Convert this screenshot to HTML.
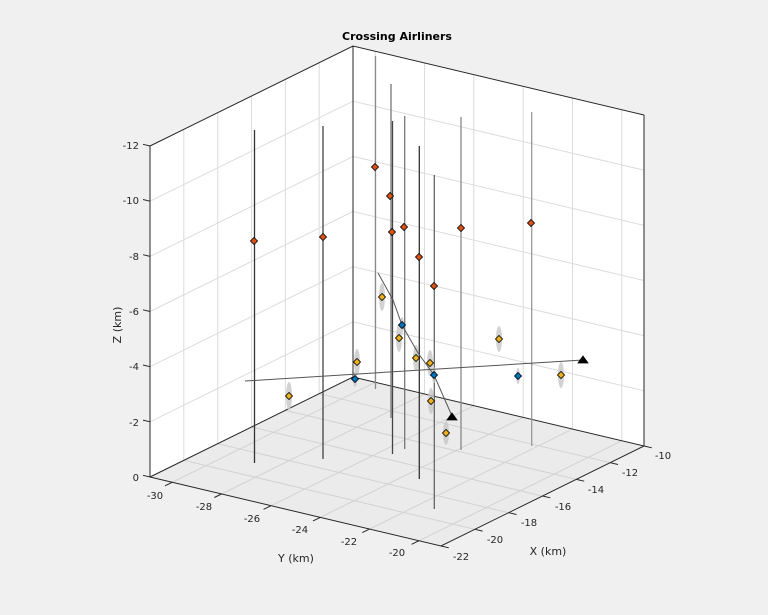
<!DOCTYPE html>
<html><head><meta charset="utf-8"><style>
html,body{margin:0;padding:0;background:#f0f0f0;}
svg{display:block;font-family:"DejaVu Sans","Liberation Sans",sans-serif;}
</style></head><body>
<svg width="768" height="615" viewBox="0 0 768 615" xmlns="http://www.w3.org/2000/svg">
<rect width="768" height="615" fill="#f0f0f0"/>
<polygon points="150,146 353,46 353,377 150,477" fill="#ffffff"/>
<polygon points="353,46 644,115 644,446 353,377" fill="#ffffff"/>
<polygon points="150,477 353,377 644,446 441,546" fill="#ebebeb"/>
<g stroke="#dcdcdc" stroke-width="1" fill="none">
<line x1="150" y1="421.8" x2="353" y2="321.8"/><line x1="150" y1="366.7" x2="353" y2="266.7"/>
<line x1="150" y1="311.5" x2="353" y2="211.5"/><line x1="150" y1="256.4" x2="353" y2="156.4"/>
<line x1="150" y1="201.2" x2="353" y2="101.2"/>
<line x1="353" y1="321.8" x2="644" y2="390.8"/><line x1="353" y1="266.7" x2="644" y2="335.7"/>
<line x1="353" y1="211.5" x2="644" y2="280.5"/><line x1="353" y1="156.4" x2="644" y2="225.4"/>
<line x1="353" y1="101.2" x2="644" y2="170.2"/>
<line x1="183.8" y1="460.3" x2="183.8" y2="129.3"/><line x1="217.7" y1="443.7" x2="217.7" y2="112.7"/>
<line x1="251.5" y1="427" x2="251.5" y2="96"/><line x1="285.4" y1="410.4" x2="285.4" y2="79.4"/>
<line x1="319.2" y1="393.7" x2="319.2" y2="62.7"/>
<line x1="375.2" y1="382.3" x2="375.2" y2="51.3"/><line x1="424.5" y1="394" x2="424.5" y2="63"/>
<line x1="473.8" y1="405.8" x2="473.8" y2="74.8"/><line x1="523.2" y1="417.4" x2="523.2" y2="86.4"/>
<line x1="572.5" y1="429.1" x2="572.5" y2="98.1"/><line x1="621.8" y1="440.8" x2="621.8" y2="109.8"/>
</g>
<g stroke="#d2d2d2" stroke-width="1" fill="none">
<line x1="183.8" y1="460.3" x2="474.8" y2="529.3"/><line x1="217.7" y1="443.7" x2="508.7" y2="512.7"/>
<line x1="251.5" y1="427" x2="542.5" y2="496"/><line x1="285.4" y1="410.4" x2="576.4" y2="479.4"/>
<line x1="319.2" y1="393.7" x2="610.2" y2="462.7"/>
<line x1="375.2" y1="382.3" x2="172.2" y2="482.3"/><line x1="424.5" y1="394" x2="221.5" y2="494"/>
<line x1="473.8" y1="405.8" x2="270.8" y2="505.8"/><line x1="523.2" y1="417.4" x2="320.2" y2="517.4"/>
<line x1="572.5" y1="429.1" x2="369.5" y2="529.1"/><line x1="621.8" y1="440.8" x2="418.8" y2="540.8"/>
</g>
<g stroke="#262626" stroke-width="1" fill="none">
<line x1="150" y1="146" x2="150" y2="477"/><line x1="353" y1="46" x2="353" y2="377"/>
<line x1="644" y1="115" x2="644" y2="446"/>
<polyline points="150,146 353,46 644,115"/>
<polyline points="150,477 353,377 644,446"/>
<polyline points="150,477 441,546 644,446"/>
<line x1="150" y1="146" x2="143" y2="144.3"/><line x1="150" y1="201.2" x2="143" y2="199.5"/>
<line x1="150" y1="256.4" x2="143" y2="254.7"/><line x1="150" y1="311.5" x2="143" y2="309.8"/>
<line x1="150" y1="366.7" x2="143" y2="365"/><line x1="150" y1="421.8" x2="143" y2="420.1"/>
<line x1="150" y1="477" x2="143" y2="475.3"/>
<line x1="172.2" y1="482.3" x2="165" y2="485.8"/><line x1="221.5" y1="494" x2="214.3" y2="497.5"/>
<line x1="270.8" y1="505.8" x2="263.6" y2="509.3"/><line x1="320.2" y1="517.4" x2="313" y2="520.9"/>
<line x1="369.5" y1="529.1" x2="362.3" y2="532.6"/><line x1="418.8" y1="540.8" x2="411.6" y2="544.3"/>
<line x1="441" y1="546" x2="448.8" y2="547.8"/><line x1="474.8" y1="529.3" x2="482.6" y2="531.1"/>
<line x1="508.7" y1="512.7" x2="516.5" y2="514.5"/><line x1="542.5" y1="496" x2="550.3" y2="497.8"/>
<line x1="576.4" y1="479.4" x2="584.2" y2="481.2"/><line x1="610.2" y1="462.7" x2="618" y2="464.5"/>
<line x1="644" y1="446" x2="651.8" y2="447.8"/>
</g>
<g font-size="10" fill="#262626" text-anchor="end">
<text x="139" y="149">-12</text><text x="139" y="204">-10</text><text x="139" y="260">-8</text>
<text x="139" y="315">-6</text><text x="139" y="370">-4</text><text x="139" y="426">-2</text>
<text x="139" y="481">0</text>
</g>
<g font-size="10" fill="#262626" text-anchor="middle">
<text x="155" y="499">-30</text><text x="204" y="510">-28</text><text x="252" y="522">-26</text>
<text x="300" y="533">-24</text><text x="349" y="545">-22</text><text x="397" y="556">-20</text>
<text x="461" y="560">-22</text><text x="495" y="543">-20</text><text x="529" y="526">-18</text>
<text x="563" y="510">-16</text><text x="596" y="493">-14</text><text x="630" y="476">-12</text>
<text x="663" y="459">-10</text>
</g>
<g font-size="11" fill="#262626" text-anchor="middle">
<text x="296" y="562">Y (km)</text>
<text x="548" y="555">X (km)</text>
<text transform="translate(121,325) rotate(-90)">Z (km)</text>
</g>
<text x="397" y="40" font-size="11" font-weight="bold" fill="#000" text-anchor="middle">Crossing Airliners</text>
<g stroke-width="1.3" fill="none">
<line x1="254.5" y1="130" x2="254.5" y2="463" stroke="#333"/>
<line x1="323" y1="126" x2="323" y2="459" stroke="#444"/>
<line x1="375.5" y1="56" x2="375.5" y2="389" stroke="#888"/>
<line x1="391" y1="84" x2="391" y2="418" stroke="#777"/>
<line x1="392.5" y1="121" x2="392.5" y2="454" stroke="#444"/>
<line x1="404.7" y1="116" x2="404.7" y2="449" stroke="#777"/>
<line x1="419.3" y1="146" x2="419.3" y2="479" stroke="#333"/>
<line x1="434.3" y1="175" x2="434.3" y2="509" stroke="#666"/>
<line x1="461" y1="117" x2="461" y2="450" stroke="#888"/>
<line x1="531.7" y1="112" x2="531.7" y2="446" stroke="#999"/>
</g>
<g fill="#c8c8c8" opacity="0.8">
<ellipse cx="382" cy="297" rx="3" ry="14"/><ellipse cx="399" cy="338" rx="3" ry="14"/>
<ellipse cx="357" cy="362" rx="3" ry="13"/><ellipse cx="289" cy="396" rx="3" ry="14"/>
<ellipse cx="416" cy="358" rx="3" ry="13"/><ellipse cx="430" cy="363" rx="3" ry="13"/>
<ellipse cx="431" cy="401" rx="3" ry="13"/><ellipse cx="446" cy="433" rx="3" ry="12"/>
<ellipse cx="499" cy="339" rx="3" ry="13"/><ellipse cx="561" cy="375" rx="3" ry="13"/>
<ellipse cx="355" cy="379" rx="2" ry="8"/><ellipse cx="518" cy="376" rx="2" ry="8"/>
<ellipse cx="434" cy="375" rx="2" ry="8"/><ellipse cx="402" cy="325" rx="2" ry="8"/>
</g>
<g stroke="#555" stroke-width="1" fill="none">
<polyline points="378,273 393,300 402,325 418,353 434,375 452,416"/>
<line x1="245" y1="381" x2="583" y2="360"/>
</g>
<g stroke="#000" stroke-width="0.8">
<g fill="#d95319">
<rect x="251.5" y="238.5" width="5" height="5" transform="rotate(45 254 241)"/>
<rect x="320.5" y="234.5" width="5" height="5" transform="rotate(45 323 237)"/>
<rect x="372.5" y="164.5" width="5" height="5" transform="rotate(45 375 167)"/>
<rect x="387.5" y="193.5" width="5" height="5" transform="rotate(45 390 196)"/>
<rect x="389.5" y="229.5" width="5" height="5" transform="rotate(45 392 232)"/>
<rect x="401.5" y="224.5" width="5" height="5" transform="rotate(45 404 227)"/>
<rect x="416.5" y="254.5" width="5" height="5" transform="rotate(45 419 257)"/>
<rect x="431.5" y="283.5" width="5" height="5" transform="rotate(45 434 286)"/>
<rect x="458.5" y="225.5" width="5" height="5" transform="rotate(45 461 228)"/>
<rect x="528.5" y="220.5" width="5" height="5" transform="rotate(45 531 223)"/>
</g>
<g fill="#edb120">
<rect x="379.5" y="294.5" width="5" height="5" transform="rotate(45 382 297)"/>
<rect x="396.5" y="335.5" width="5" height="5" transform="rotate(45 399 338)"/>
<rect x="354.5" y="359.5" width="5" height="5" transform="rotate(45 357 362)"/>
<rect x="286.5" y="393.5" width="5" height="5" transform="rotate(45 289 396)"/>
<rect x="413.5" y="355.5" width="5" height="5" transform="rotate(45 416 358)"/>
<rect x="427.5" y="360.5" width="5" height="5" transform="rotate(45 430 363)"/>
<rect x="428.5" y="398.5" width="5" height="5" transform="rotate(45 431 401)"/>
<rect x="443.5" y="430.5" width="5" height="5" transform="rotate(45 446 433)"/>
<rect x="496.5" y="336.5" width="5" height="5" transform="rotate(45 499 339)"/>
<rect x="558.5" y="372.5" width="5" height="5" transform="rotate(45 561 375)"/>
</g>
<g fill="#0072bd">
<rect x="399.5" y="322.5" width="5" height="5" transform="rotate(45 402 325)"/>
<rect x="352.5" y="376.5" width="5" height="5" transform="rotate(45 355 379)"/>
<rect x="431.5" y="372.5" width="5" height="5" transform="rotate(45 434 375)"/>
<rect x="515.5" y="373.5" width="5" height="5" transform="rotate(45 518 376)"/>
</g>
<polygon points="452,413 457,420 447,420" fill="#000"/>
<polygon points="583,356 588,363 578,363" fill="#000"/>
</g>
</svg>
</body></html>
